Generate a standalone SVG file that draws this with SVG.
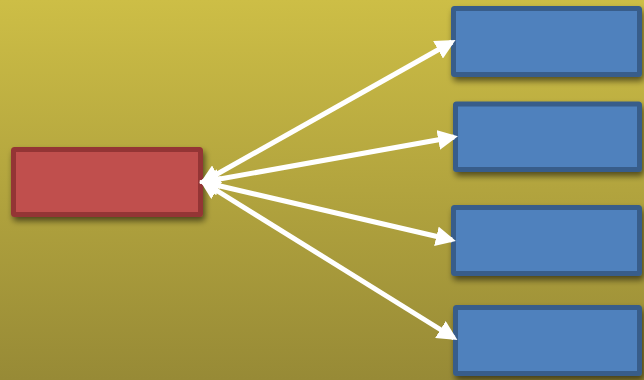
<svg xmlns="http://www.w3.org/2000/svg" width="644" height="380" viewBox="0 0 644 380">
<defs>
<linearGradient id="bg" x1="0" y1="0" x2="0" y2="1">
<stop offset="0" stop-color="#CDBE46"/>
<stop offset="1" stop-color="#978A36"/>
</linearGradient>
<filter id="sh" x="-10%" y="-20%" width="125%" height="150%">
<feGaussianBlur in="SourceAlpha" stdDeviation="3"/>
<feOffset dx="2" dy="4" result="b"/>
<feComponentTransfer><feFuncA type="linear" slope="0.55"/></feComponentTransfer>
<feMerge><feMergeNode/><feMergeNode in="SourceGraphic"/></feMerge>
</filter>
<marker id="ah" viewBox="0 0 10 10" refX="8" refY="5" markerWidth="4" markerHeight="4" orient="auto-start-reverse" markerUnits="strokeWidth">
<path d="M0,0 L10,5 L0,10 z" fill="#FFFFFF"/>
</marker>
<style>
.red{fill:#C0504D;stroke:#943634;stroke-width:5;}
.blue{fill:#4F81BD;stroke:#385D8A;stroke-width:5;}
.con{stroke:#FFFFFF;stroke-width:5;fill:none;marker-start:url(#ah);marker-end:url(#ah);}
</style>
</defs>
<rect x="0" y="0" width="644" height="380" fill="url(#bg)"/>
<g id="source" filter="url(#sh)">
<rect class="red" x="13.5" y="149.5" width="187" height="65" rx="1"/>
</g>
<g id="target1" filter="url(#sh)">
<rect class="blue" x="453.5" y="8.5" width="186" height="66" rx="1"/>
</g>
<g id="target2" filter="url(#sh)">
<rect class="blue" x="455.5" y="104" width="184" height="65.5" rx="1"/>
</g>
<g id="target3" filter="url(#sh)">
<rect class="blue" x="453.5" y="207.5" width="186" height="66" rx="1"/>
</g>
<g id="target4" filter="url(#sh)">
<rect class="blue" x="455.5" y="307.5" width="184" height="66" rx="1"/>
</g>
<g id="connectors">
<line class="con" x1="203" y1="182" x2="452" y2="42"/>
<line class="con" x1="203" y1="182" x2="454" y2="137"/>
<line class="con" x1="203" y1="182" x2="452" y2="240"/>
<line class="con" x1="203" y1="182" x2="454" y2="338"/>
</g>
</svg>
